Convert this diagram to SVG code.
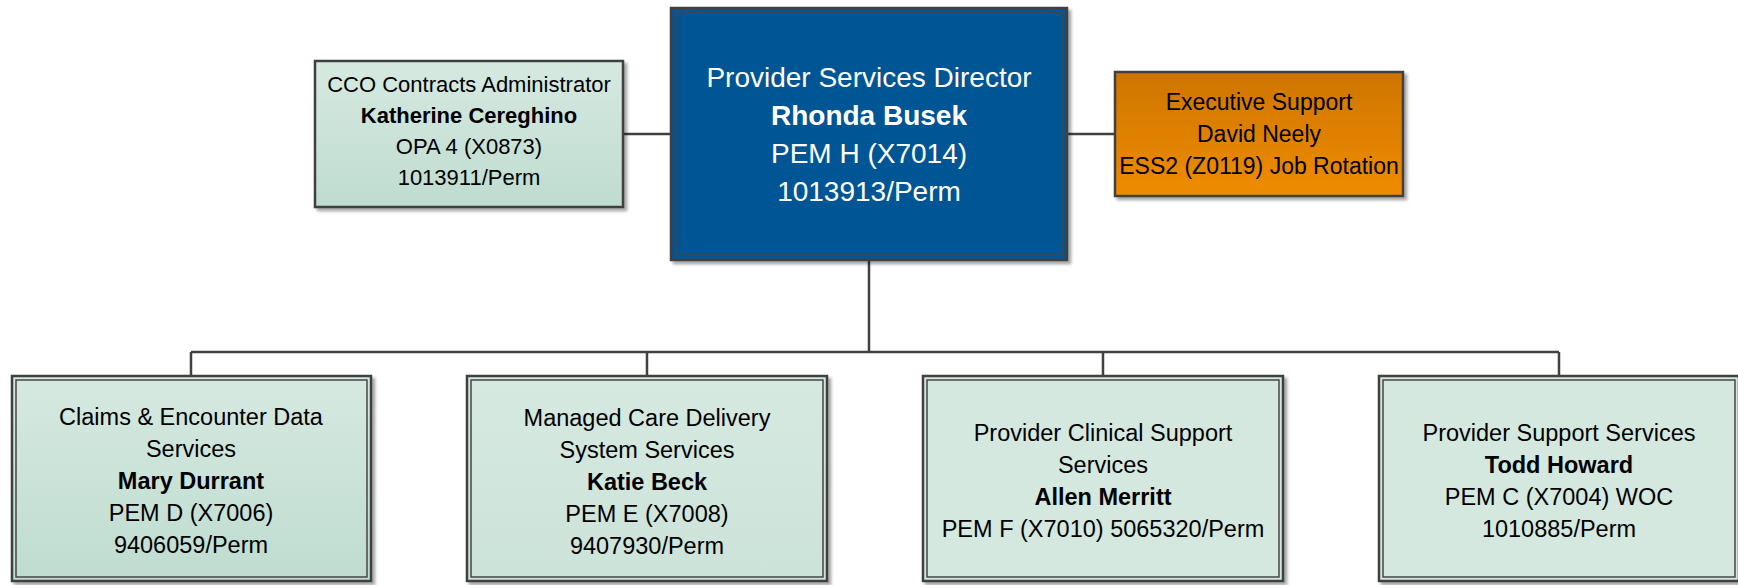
<svg xmlns="http://www.w3.org/2000/svg" width="1738" height="585" viewBox="0 0 1738 585">
<defs>
<linearGradient id="gGreen" x1="0" y1="0" x2="0" y2="1"><stop offset="0" stop-color="#D6E9E1"/><stop offset="1" stop-color="#BFDCD0"/></linearGradient>
<linearGradient id="gGreenL" x1="0" y1="0" x2="0" y2="1"><stop offset="0" stop-color="#D6E9E1"/><stop offset="1" stop-color="#CCE3D9"/></linearGradient>
<linearGradient id="gOrange" x1="0" y1="0" x2="0" y2="1"><stop offset="0" stop-color="#CE7500"/><stop offset="1" stop-color="#EF8C00"/></linearGradient>
<filter id="sh" x="-5%" y="-5%" width="115%" height="115%"><feDropShadow dx="3" dy="3" stdDeviation="1.6" flood-color="#000" flood-opacity="0.35"/></filter>
<style>
.box{stroke:#3F3F3F;stroke-width:2.5;filter:url(#sh)}
.inner{fill:none;stroke:#454545;stroke-width:1.5}
.conn{fill:none;stroke:#404040;stroke-width:2.5}
text{font-family:"Liberation Sans",Arial,sans-serif;text-anchor:middle;fill:#000}
.dir{font-size:28px;fill:#fff}
.s22{font-size:22px}
.s23{font-size:23px}
.s235{font-size:23.5px}
.b{font-weight:bold}
</style>
</defs>
<rect width="1738" height="585" fill="#fff"/>
<g id="connectors">
<path class="conn" d="M623,134 H671"/>
<path class="conn" d="M1067,134 H1115"/>
<path class="conn" d="M869,260 V352"/>
<path class="conn" d="M191,352 H1559"/>
<path class="conn" d="M191,352 V376 M647,352 V376 M1103,352 V376 M1559,352 V376"/>
</g>
<g id="director">
<rect class="box" x="671" y="8" width="396" height="252" fill="#045595"/>
<rect class="inner" x="676" y="13" width="386" height="242"/>
<text class="dir" x="869" y="87">Provider Services Director</text>
<text class="dir b" x="869" y="125">Rhonda Busek</text>
<text class="dir" x="869" y="163">PEM H (X7014)</text>
<text class="dir" x="869" y="201">1013913/Perm</text>
</g>
<g id="cco">
<rect class="box" x="315" y="61" width="308" height="146" fill="url(#gGreen)"/>
<text class="s22" x="469" y="92">CCO Contracts Administrator</text>
<text class="s22 b" x="469" y="123">Katherine Cereghino</text>
<text class="s22" x="469" y="154">OPA 4 (X0873)</text>
<text class="s22" x="469" y="185">1013911/Perm</text>
</g>
<g id="exec">
<rect class="box" x="1115" y="72" width="288" height="124" fill="url(#gOrange)"/>
<text class="s23" x="1259" y="110">Executive Support</text>
<text class="s23" x="1259" y="142">David Neely</text>
<text class="s23" x="1259" y="174">ESS2 (Z0119) Job Rotation</text>
</g>
<g id="claims">
<rect class="box" x="12" y="376" width="359" height="205" fill="url(#gGreen)"/>
<rect class="inner" x="16" y="380" width="351" height="197"/>
<text class="s235" x="191" y="425">Claims &amp; Encounter Data</text>
<text class="s235" x="191" y="457">Services</text>
<text class="s235 b" x="191" y="489">Mary Durrant</text>
<text class="s235" x="191" y="521">PEM D (X7006)</text>
<text class="s235" x="191" y="553">9406059/Perm</text>
</g>
<g id="managed">
<rect class="box" x="467" y="376" width="360" height="205" fill="url(#gGreenL)"/>
<rect class="inner" x="471" y="380" width="352" height="197"/>
<text class="s235" x="647" y="426">Managed Care Delivery</text>
<text class="s235" x="647" y="458">System Services</text>
<text class="s235 b" x="647" y="490">Katie Beck</text>
<text class="s235" x="647" y="522">PEM E (X7008)</text>
<text class="s235" x="647" y="554">9407930/Perm</text>
</g>
<g id="clinical">
<rect class="box" x="923" y="376" width="360" height="205" fill="#D5E8DF"/>
<rect class="inner" x="927" y="380" width="352" height="197"/>
<text class="s235" x="1103" y="441">Provider Clinical Support</text>
<text class="s235" x="1103" y="473">Services</text>
<text class="s235 b" x="1103" y="505">Allen Merritt</text>
<text class="s235" x="1103" y="537">PEM F (X7010) 5065320/Perm</text>
</g>
<g id="support">
<rect class="box" x="1379" y="376" width="360" height="205" fill="#D5E8DF"/>
<rect class="inner" x="1383" y="380" width="352" height="197"/>
<text class="s235" x="1559" y="441">Provider Support Services</text>
<text class="s235 b" x="1559" y="473">Todd Howard</text>
<text class="s235" x="1559" y="505">PEM C (X7004) WOC</text>
<text class="s235" x="1559" y="537">1010885/Perm</text>
</g>
</svg>
